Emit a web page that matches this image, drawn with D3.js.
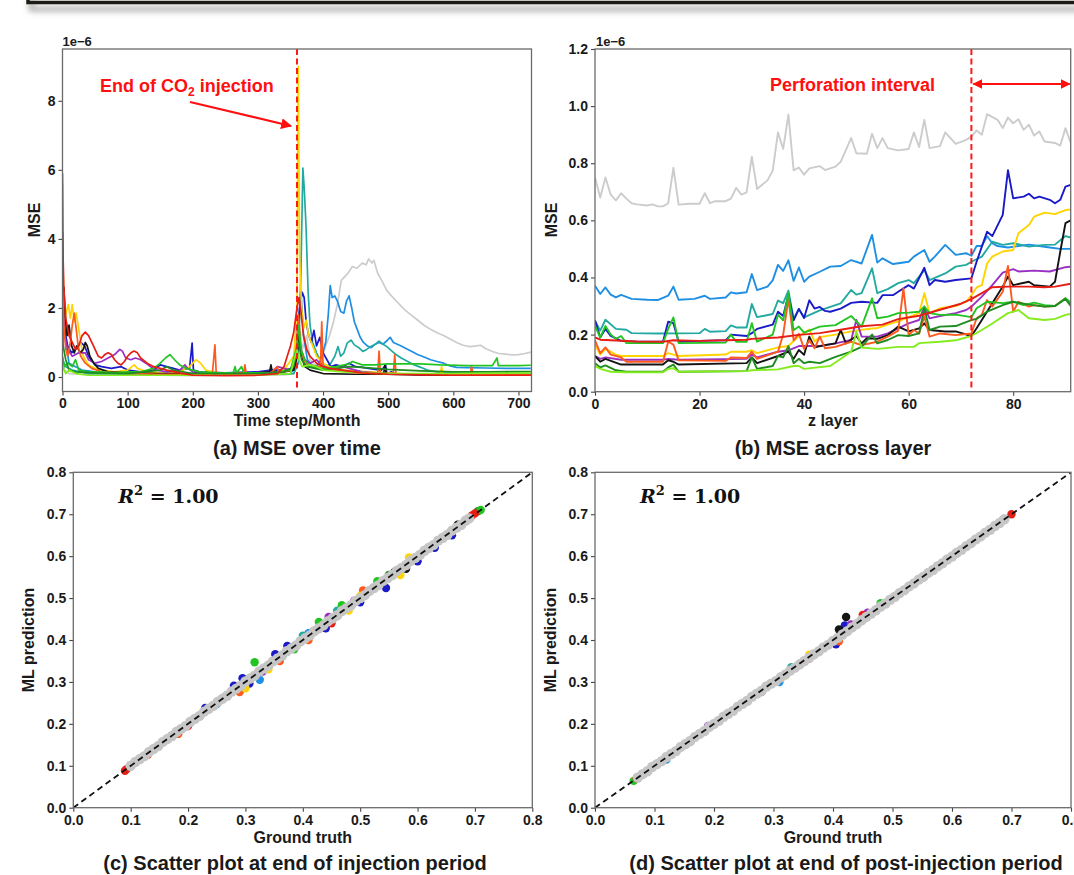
<!DOCTYPE html>
<html><head><meta charset="utf-8">
<script src="https://cdn.jsdelivr.net/npm/d3@7"></script>
<style>body{margin:0;background:#fff;overflow:hidden}svg{display:block}</style>
</head><body><svg id="fig" width="1074" height="875"></svg>
<script>
// ---------------- DATA ----------------
const seriesNames = ["gray","dodger","teal","darkblue","gold","purple","black","orangered","limegreen","forestgreen","lawngreen","red"];
const seriesColors = {gray:"#cccccc",dodger:"#1f8fe3",teal:"#22aaa2",darkblue:"#1a1ac8",gold:"#ffd400",purple:"#9a2fc4",black:"#141414",orangered:"#ff5a1e",limegreen:"#22c422",forestgreen:"#1f8c1f",lawngreen:"#84ec1c",red:"#e61e14"};

// (a) MSE over time, [time step, MSE x1e-6]
const timeTicks = [0,100,200,300,400,500,600,700];
const mseTicksA = [0,2,4,6,8];
const injectionEnd = 360;
const timeGray = [[0,0.4],[3,0.2],[10,0.1],[30,0.08],[60,0.05],[100,0.05],[150,0.05],[200,0.04],[250,0.05],[300,0.06],[340,0.06],[355,0.1],[360,0.6],[364,1.5],[368,0.8],[375,1.2],[380,0.5],[390,0.3],[398,0.5],[404,0.9],[410,1.2],[416,1.6],[422,2.1],[428,2.8],[433,2.9],[438,3.0],[445,3.2],[452,3.15],[460,3.3],[466,3.25],[470,3.42],[475,3.3],[478,3.38],[484,3.0],[490,2.8],[498,2.5],[505,2.35],[515,2.15],[525,1.95],[535,1.8],[545,1.65],[555,1.5],[565,1.38],[575,1.28],[585,1.2],[595,1.1],[605,1.0],[615,0.92],[625,0.88],[635,0.9],[642,0.92],[650,0.82],[660,0.74],[670,0.68],[680,0.66],[690,0.64],[700,0.65],[710,0.68],[719,0.72]];
const timeDodger = [[0,0.8],[3,1.5],[6,0.9],[10,0.4],[20,0.3],[30,0.2],[50,0.15],[100,0.1],[150,0.1],[200,0.08],[250,0.08],[300,0.08],[350,0.1],[358,0.3],[362,1.5],[366,2.5],[370,1.2],[376,0.5],[385,0.3],[392,0.35],[398,0.6],[404,1.0],[408,1.8],[411,2.65],[414,2.3],[418,2.35],[422,2.2],[427,1.9],[432,1.85],[436,2.2],[440,2.35],[444,2.0],[448,1.6],[452,1.4],[457,1.15],[462,1.0],[468,0.9],[474,0.85],[480,0.95],[486,1.0],[492,0.95],[498,1.05],[503,1.15],[508,1.0],[514,0.95],[520,0.9],[528,0.82],[535,0.75],[545,0.65],[555,0.58],[565,0.5],[575,0.45],[585,0.4],[595,0.32],[605,0.28],[620,0.27],[650,0.26],[680,0.25],[719,0.25]];
const timeTeal = [[0,0.5],[5,0.3],[15,0.2],[40,0.1],[100,0.08],[200,0.08],[300,0.08],[355,0.1],[362,0.4],[366,3.0],[369,6.05],[371,5.5],[374,4.3],[377,2.5],[380,1.5],[384,1.0],[390,0.7],[398,0.4],[405,0.3],[412,0.4],[418,0.6],[423,0.88],[427,0.6],[432,0.7],[437,0.98],[443,1.07],[448,0.93],[455,0.85],[461,0.74],[467,0.8],[473,0.88],[479,0.93],[486,1.04],[492,0.95],[498,0.88],[504,0.78],[512,0.65],[520,0.55],[530,0.45],[540,0.35],[550,0.28],[560,0.2],[575,0.15],[600,0.12],[650,0.1],[719,0.12]];
const timeDarkblue = [[0,2.0],[3,1.4],[8,0.9],[14,0.7],[20,0.8],[28,1.0],[34,0.9],[40,0.6],[50,0.35],[60,0.3],[75,0.25],[90,0.3],[100,0.2],[120,0.15],[140,0.2],[150,0.35],[160,0.3],[180,0.2],[195,0.25],[199,0.98],[201,0.2],[210,0.15],[250,0.12],[300,0.15],[320,0.2],[340,0.2],[355,0.25],[360,0.8],[364,2.0],[368,2.45],[371,2.3],[374,1.6],[378,1.2],[382,1.0],[386,1.35],[390,0.9],[395,1.15],[400,0.7],[406,0.5],[412,0.3],[420,0.35],[430,0.3],[440,0.4],[450,0.3],[460,0.28],[470,0.25],[480,0.22],[490,0.2],[496,0.35],[498,0.1],[505,0.15],[510,0.1],[530,0.08],[560,0.06],[600,0.05],[650,0.05],[719,0.05]];
const timeGold = [[0,5.6],[1,3.0],[3,1.6],[6,1.9],[9,2.1],[12,1.7],[15,2.1],[18,1.6],[21,1.85],[24,1.5],[28,1.0],[32,0.6],[40,0.35],[50,0.25],[60,0.2],[80,0.15],[100,0.2],[110,0.35],[115,0.25],[130,0.15],[160,0.1],[185,0.2],[195,0.3],[205,0.5],[212,0.4],[220,0.2],[240,0.1],[280,0.08],[320,0.1],[340,0.2],[355,0.6],[360,2.0],[362,9.0],[364,3.5],[367,2.0],[370,1.4],[374,1.65],[378,1.2],[383,0.95],[390,0.6],[400,0.4],[410,0.3],[430,0.2],[470,0.15],[520,0.1],[580,0.08],[582,0.3],[584,0.08],[650,0.06],[719,0.06]];
const timePurple = [[0,5.9],[1,2.5],[3,1.2],[8,0.8],[15,0.6],[25,0.7],[35,0.7],[40,0.5],[50,0.4],[60,0.45],[70,0.55],[80,0.65],[88,0.8],[92,0.75],[97,0.55],[105,0.5],[112,0.55],[120,0.5],[128,0.4],[135,0.3],[145,0.2],[160,0.15],[180,0.2],[188,0.35],[192,0.25],[200,0.15],[230,0.1],[280,0.1],[320,0.15],[330,0.3],[340,0.25],[350,0.2],[358,0.4],[362,1.6],[366,0.8],[372,0.5],[380,0.4],[390,0.5],[400,0.3],[410,0.25],[420,0.2],[430,0.3],[440,0.25],[450,0.2],[460,0.15],[480,0.12],[500,0.1],[530,0.08],[600,0.05],[719,0.05]];
const timeBlack = [[0,2.5],[2,2.6],[4,1.8],[7,1.2],[10,1.5],[14,0.9],[18,0.7],[22,0.9],[27,0.7],[32,0.8],[35,1.0],[38,0.9],[42,0.6],[48,0.4],[55,0.25],[70,0.15],[100,0.12],[150,0.1],[200,0.1],[250,0.1],[300,0.12],[318,0.15],[320,0.35],[322,0.15],[340,0.15],[355,0.2],[360,0.6],[363,1.2],[367,0.6],[372,0.3],[380,0.2],[400,0.1],[450,0.08],[493,0.08],[495,0.35],[497,0.08],[550,0.06],[680,0.05],[682,0.15],[684,0.05],[719,0.05]];
const timeOrangered = [[0,3.0],[2,1.5],[5,0.8],[8,0.6],[12,1.0],[15,1.5],[18,1.85],[21,1.4],[24,0.9],[28,0.6],[35,0.4],[45,0.25],[60,0.15],[100,0.1],[150,0.08],[200,0.08],[230,0.08],[234,0.93],[236,0.1],[260,0.1],[278,0.12],[280,0.35],[282,0.12],[320,0.12],[330,0.3],[332,0.12],[350,0.2],[358,0.6],[362,1.8],[366,0.8],[372,0.4],[380,0.35],[390,0.3],[396,0.3],[398,1.6],[400,0.3],[420,0.2],[450,0.12],[484,0.1],[486,0.75],[488,0.1],[508,0.1],[510,0.65],[512,0.1],[550,0.08],[626,0.08],[628,0.3],[630,0.08],[719,0.06]];
const timeLimegreen = [[0,0.6],[3,0.3],[8,0.4],[15,0.3],[20,0.5],[25,0.2],[40,0.15],[60,0.15],[80,0.12],[100,0.15],[120,0.15],[140,0.25],[150,0.4],[158,0.55],[165,0.65],[172,0.5],[180,0.35],[190,0.25],[210,0.15],[240,0.12],[262,0.12],[265,0.3],[267,0.12],[275,0.3],[278,0.12],[320,0.12],[350,0.2],[360,0.9],[363,1.5],[366,0.8],[372,0.5],[380,0.3],[400,0.25],[420,0.3],[440,0.38],[445,0.45],[460,0.35],[480,0.35],[500,0.38],[520,0.38],[550,0.38],[580,0.35],[620,0.33],[660,0.33],[667,0.55],[669,0.33],[700,0.33],[719,0.34]];
const timeForestgreen = [[0,1.0],[5,0.5],[10,0.2],[20,0.15],[50,0.12],[100,0.1],[150,0.2],[160,0.3],[170,0.2],[200,0.1],[250,0.1],[300,0.1],[340,0.15],[355,0.3],[360,0.8],[363,1.0],[367,0.5],[375,0.3],[400,0.2],[420,0.25],[440,0.3],[460,0.28],[480,0.25],[500,0.22],[550,0.18],[600,0.15],[650,0.15],[719,0.16]];
const timeLawngreen = [[0,0.3],[5,0.1],[10,0.2],[20,0.1],[40,0.05],[100,0.05],[200,0.05],[300,0.05],[350,0.1],[360,0.8],[363,0.5],[368,0.3],[380,0.35],[390,0.3],[400,0.2],[430,0.15],[500,0.1],[600,0.1],[719,0.12]];
const timeRed = [[0,4.2],[2,2.6],[5,1.7],[10,1.2],[15,1.0],[20,0.8],[25,0.9],[30,1.2],[35,1.3],[40,1.2],[45,1.0],[50,0.8],[55,0.6],[60,0.55],[65,0.65],[70,0.7],[75,0.65],[80,0.5],[85,0.4],[90,0.35],[95,0.45],[100,0.6],[105,0.7],[110,0.75],[115,0.7],[120,0.55],[130,0.4],[140,0.3],[150,0.25],[160,0.2],[180,0.12],[200,0.05],[250,0.04],[300,0.05],[330,0.1],[340,0.3],[345,0.6],[350,0.9],[355,1.3],[360,2.0],[363,2.3],[366,1.9],[370,1.2],[375,0.8],[380,0.6],[390,0.4],[400,0.3],[410,0.25],[430,0.2],[460,0.12],[500,0.08],[550,0.06],[600,0.05],[719,0.05]];

// (b) MSE across layer, [z layer, MSE x1e-6]
const layerTicks = [0,20,40,60,80];
const mseTicksB = [0,0.2,0.4,0.6,0.8,1.0,1.2];
const perforationStart = 72;
const layerGray = [[0,0.75],[1,0.68],[2,0.75],[3,0.69],[4,0.67],[5,0.695],[6,0.676],[7,0.66],[8,0.656],[10,0.652],[11,0.656],[12,0.649],[13,0.649],[14,0.66],[15,0.784],[16,0.655],[18,0.658],[20,0.658],[21,0.695],[22,0.66],[23,0.667],[25,0.667],[26,0.676],[27,0.714],[28,0.69],[29,0.698],[30,0.823],[31,0.71],[33,0.74],[34,0.774],[35,0.908],[36,0.85],[37,0.97],[38,0.775],[39,0.785],[40,0.76],[41,0.782],[43,0.79],[44,0.776],[46,0.788],[47,0.805],[49,0.888],[50,0.835],[52,0.833],[53,0.903],[54,0.853],[55,0.888],[56,0.853],[58,0.845],[60,0.85],[61,0.908],[62,0.857],[63,0.952],[64,0.853],[66,0.86],[67,0.908],[69,0.868],[71,0.882],[72,0.893],[73,0.915],[74,0.9],[75,0.972],[77,0.952],[78,0.923],[79,0.96],[80,0.94],[81,0.954],[82,0.917],[83,0.935],[84,0.897],[85,0.911],[86,0.876],[88,0.871],[89,0.862],[90,0.923],[91,0.871]];
const layerDodger = [[0,0.371],[1,0.342],[2,0.365],[3,0.34],[4,0.33],[5,0.339],[7,0.325],[10,0.322],[12,0.321],[14,0.336],[15,0.368],[16,0.322],[19,0.325],[21,0.336],[22,0.325],[25,0.33],[26,0.348],[27,0.344],[29,0.348],[30,0.412],[31,0.356],[33,0.368],[34,0.39],[35,0.444],[36,0.423],[37,0.46],[38,0.388],[39,0.435],[40,0.385],[41,0.403],[43,0.42],[45,0.438],[47,0.44],[49,0.461],[51,0.449],[53,0.549],[54,0.452],[55,0.467],[57,0.447],[60,0.455],[61,0.473],[63,0.496],[64,0.455],[65,0.473],[67,0.514],[69,0.479],[71,0.485],[72,0.476],[73,0.51],[74,0.51],[75,0.545],[76,0.52],[77,0.51],[79,0.505],[81,0.51],[83,0.515],[85,0.51],[87,0.505],[89,0.5],[91,0.5]];
const layerTeal = [[0,0.249],[1,0.214],[2,0.252],[4,0.22],[6,0.217],[7,0.205],[12,0.204],[20,0.205],[21,0.22],[22,0.21],[25,0.212],[26,0.232],[27,0.225],[29,0.225],[30,0.307],[31,0.261],[34,0.272],[35,0.319],[36,0.31],[37,0.354],[38,0.255],[39,0.29],[40,0.26],[43,0.285],[47,0.309],[49,0.356],[50,0.34],[51,0.345],[53,0.432],[54,0.345],[56,0.359],[58,0.38],[60,0.391],[61,0.38],[63,0.426],[64,0.391],[67,0.414],[69,0.438],[71,0.444],[72,0.455],[74,0.473],[76,0.525],[78,0.514],[80,0.52],[83,0.508],[86,0.514],[88,0.515],[89,0.53],[90,0.545],[91,0.54]];
const layerDarkblue = [[0,0.25],[1,0.19],[2,0.22],[3,0.195],[5,0.178],[8,0.175],[13,0.175],[14,0.245],[15,0.24],[16,0.175],[20,0.178],[25,0.18],[26,0.2],[29,0.195],[30,0.205],[31,0.22],[34,0.235],[35,0.28],[36,0.265],[37,0.34],[38,0.25],[39,0.29],[40,0.258],[41,0.32],[42,0.291],[43,0.297],[44,0.283],[45,0.28],[47,0.291],[49,0.311],[51,0.315],[54,0.311],[55,0.338],[57,0.338],[58,0.35],[60,0.373],[61,0.361],[63,0.434],[64,0.373],[65,0.391],[67,0.385],[69,0.391],[72,0.397],[73,0.455],[74,0.508],[75,0.56],[76,0.545],[78,0.619],[79,0.776],[80,0.677],[82,0.683],[83,0.693],[84,0.677],[85,0.683],[87,0.672],[88,0.66],[89,0.672],[90,0.718],[91,0.724]];
const layerGold = [[0,0.165],[1,0.13],[2,0.15],[4,0.13],[5,0.125],[13,0.125],[14,0.135],[15,0.13],[16,0.125],[25,0.13],[26,0.14],[29,0.14],[30,0.145],[31,0.135],[35,0.155],[37,0.16],[39,0.195],[41,0.218],[42,0.176],[43,0.191],[46,0.2],[49,0.211],[51,0.217],[54,0.223],[56,0.235],[58,0.246],[60,0.261],[62,0.275],[63,0.345],[64,0.275],[66,0.292],[69,0.3],[71,0.315],[72,0.338],[73,0.365],[74,0.373],[75,0.449],[76,0.473],[78,0.491],[80,0.496],[81,0.555],[83,0.584],[84,0.613],[86,0.627],[88,0.622],[90,0.636],[91,0.638]];
const layerPurple = [[0,0.125],[1,0.115],[2,0.12],[5,0.112],[13,0.112],[14,0.115],[16,0.112],[29,0.115],[30,0.13],[31,0.12],[35,0.14],[37,0.145],[39,0.16],[40,0.16],[43,0.16],[46,0.169],[49,0.181],[50,0.251],[51,0.193],[54,0.193],[56,0.204],[58,0.222],[60,0.239],[62,0.251],[63,0.298],[64,0.257],[66,0.265],[69,0.275],[71,0.286],[72,0.298],[74,0.333],[76,0.373],[78,0.417],[80,0.429],[81,0.421],[84,0.424],[87,0.421],[90,0.436],[91,0.438]];
const layerBlack = [[0,0.125],[1,0.105],[2,0.115],[5,0.095],[13,0.095],[14,0.11],[15,0.105],[16,0.095],[29,0.1],[30,0.12],[31,0.1],[35,0.125],[37,0.14],[38,0.115],[39,0.146],[40,0.129],[41,0.193],[42,0.155],[44,0.163],[46,0.169],[47,0.216],[48,0.169],[50,0.195],[51,0.169],[52,0.187],[54,0.185],[56,0.198],[58,0.228],[60,0.211],[62,0.222],[63,0.239],[64,0.216],[67,0.211],[69,0.211],[72,0.195],[73,0.222],[74,0.251],[76,0.31],[78,0.368],[79,0.403],[80,0.373],[83,0.385],[84,0.373],[87,0.368],[88,0.385],[89,0.49],[90,0.59],[91,0.6]];
const layerOrangered = [[0,0.18],[1,0.135],[2,0.155],[3,0.13],[5,0.12],[6,0.105],[13,0.105],[14,0.175],[15,0.165],[16,0.11],[25,0.108],[26,0.12],[29,0.118],[30,0.14],[31,0.115],[35,0.14],[36,0.2],[37,0.325],[38,0.18],[39,0.203],[40,0.15],[41,0.18],[42,0.152],[43,0.193],[44,0.152],[46,0.157],[49,0.175],[51,0.163],[54,0.175],[56,0.193],[58,0.214],[59,0.362],[60,0.198],[61,0.216],[62,0.204],[63,0.263],[64,0.193],[66,0.204],[69,0.198],[72,0.204],[73,0.257],[74,0.269],[75,0.321],[76,0.298],[78,0.35],[79,0.44],[80,0.28],[81,0.315],[83,0.298],[84,0.303],[86,0.298],[88,0.3],[90,0.327],[91,0.309]];
const layerLimegreen = [[0,0.23],[1,0.19],[2,0.23],[3,0.2],[4,0.185],[5,0.195],[6,0.17],[13,0.17],[14,0.22],[15,0.26],[16,0.17],[25,0.172],[26,0.2],[27,0.175],[29,0.175],[30,0.24],[31,0.175],[34,0.2],[35,0.27],[36,0.25],[37,0.345],[38,0.215],[39,0.228],[40,0.207],[43,0.228],[46,0.233],[49,0.265],[51,0.228],[53,0.327],[54,0.257],[56,0.263],[58,0.275],[60,0.277],[62,0.28],[63,0.298],[64,0.275],[66,0.269],[69,0.27],[72,0.261],[73,0.292],[75,0.315],[78,0.31],[80,0.315],[82,0.303],[84,0.312],[86,0.303],[88,0.3],[90,0.327],[91,0.312]];
const layerForestgreen = [[0,0.1],[1,0.085],[2,0.092],[4,0.075],[6,0.07],[13,0.07],[14,0.085],[15,0.095],[16,0.07],[29,0.072],[30,0.12],[31,0.08],[34,0.09],[35,0.125],[36,0.12],[37,0.16],[38,0.1],[39,0.115],[40,0.1],[41,0.105],[43,0.1],[46,0.122],[49,0.14],[51,0.157],[53,0.2],[54,0.169],[56,0.181],[58,0.198],[60,0.195],[62,0.204],[63,0.292],[64,0.216],[66,0.228],[69,0.23],[72,0.251],[73,0.255],[75,0.28],[78,0.303],[80,0.315],[83,0.305],[86,0.298],[88,0.3],[90,0.325],[91,0.3]];
const layerLawngreen = [[0,0.09],[1,0.08],[3,0.07],[6,0.068],[13,0.068],[14,0.08],[15,0.082],[16,0.07],[29,0.072],[30,0.075],[35,0.078],[38,0.09],[39,0.09],[40,0.08],[45,0.09],[49,0.14],[50,0.21],[51,0.155],[54,0.15],[58,0.157],[61,0.157],[62,0.17],[66,0.175],[69,0.18],[72,0.195],[74,0.216],[76,0.239],[79,0.275],[81,0.286],[83,0.257],[86,0.251],[88,0.255],[90,0.269],[91,0.272]];
const layerRed = [[0,0.19],[1,0.182],[3,0.18],[8,0.176],[13,0.175],[15,0.18],[20,0.178],[25,0.18],[29,0.182],[30,0.185],[35,0.19],[39,0.199],[43,0.205],[47,0.217],[51,0.229],[55,0.235],[58,0.254],[62,0.266],[66,0.287],[70,0.308],[72,0.324],[74,0.345],[76,0.366],[79,0.368],[83,0.368],[86,0.366],[88,0.368],[91,0.378]];

// (c),(d) scatter, [ground truth, ML prediction]
const scatterTicks = [0,0.1,0.2,0.3,0.4,0.5,0.6,0.7,0.8];
const r2Label = "1.00";
const scatC = {
  darkblue:[[0.28,0.291],[0.295,0.309],[0.307,0.296],[0.352,0.366],[0.373,0.386],[0.44,0.428],[0.5,0.49],[0.545,0.524],[0.6,0.588],[0.63,0.62],[0.66,0.65],[0.23,0.238]],
  dodger:[[0.325,0.305],[0.41,0.416],[0.25,0.247],[0.46,0.468]],
  orangered:[[0.505,0.518],[0.183,0.176],[0.29,0.276],[0.36,0.35],[0.41,0.4],[0.13,0.126]],
  gold:[[0.585,0.597],[0.57,0.555],[0.48,0.47],[0.3,0.285],[0.5,0.505],[0.34,0.33]],
  purple:[[0.445,0.455],[0.49,0.494],[0.33,0.325]],
  teal:[[0.46,0.47],[0.4,0.41]],
  black:[[0.56,0.562],[0.58,0.57],[0.67,0.675]],
  forestgreen:[[0.705,0.707],[0.55,0.555]],
  limegreen:[[0.316,0.347],[0.428,0.443],[0.468,0.483],[0.71,0.71],[0.385,0.378],[0.53,0.54]],
  red:[[0.09,0.088],[0.093,0.092],[0.695,0.697],[0.7,0.702],[0.2,0.195],[0.45,0.44]]
};
const scatCGray = [[0.100,0.100],[0.108,0.109],[0.116,0.116],[0.124,0.123],[0.132,0.133],[0.140,0.140],[0.148,0.147],[0.156,0.157],[0.164,0.164],[0.172,0.171],[0.180,0.181],[0.188,0.188],[0.196,0.195],[0.204,0.205],[0.212,0.212],[0.220,0.219],[0.228,0.229],[0.236,0.236],[0.244,0.243],[0.252,0.253],[0.260,0.260],[0.268,0.267],[0.276,0.277],[0.284,0.284],[0.292,0.291],[0.300,0.301],[0.308,0.308],[0.316,0.315],[0.324,0.325],[0.332,0.332],[0.340,0.339],[0.348,0.349],[0.356,0.356],[0.364,0.363],[0.372,0.373],[0.380,0.380],[0.388,0.387],[0.396,0.397],[0.404,0.404],[0.412,0.411],[0.420,0.421],[0.428,0.428],[0.436,0.435],[0.444,0.445],[0.452,0.452],[0.460,0.459],[0.468,0.469],[0.476,0.476],[0.484,0.483],[0.492,0.493],[0.500,0.500],[0.508,0.507],[0.516,0.517],[0.524,0.524],[0.532,0.531],[0.540,0.541],[0.548,0.548],[0.556,0.555],[0.564,0.565],[0.572,0.572],[0.580,0.579],[0.588,0.589],[0.596,0.596],[0.604,0.603],[0.612,0.613],[0.620,0.620],[0.628,0.627],[0.636,0.637],[0.644,0.644],[0.652,0.651],[0.660,0.661],[0.668,0.668],[0.676,0.675],[0.684,0.685],[0.690,0.690]];
const scatD = {
  darkblue:[[0.405,0.39],[0.42,0.435]],
  dodger:[[0.31,0.3],[0.12,0.115]],
  teal:[[0.33,0.335]],
  orangered:[[0.41,0.397],[0.36,0.355],[0.28,0.276]],
  gold:[[0.36,0.365],[0.32,0.315]],
  purple:[[0.458,0.465],[0.43,0.437],[0.19,0.195]],
  limegreen:[[0.065,0.064],[0.48,0.488],[0.55,0.548]],
  red:[[0.07,0.07],[0.685,0.685],[0.7,0.7],[0.45,0.46]],
  black:[[0.422,0.455],[0.41,0.425],[0.415,0.42]]
};
const scatDGray = [[0.072,0.072],[0.080,0.080],[0.088,0.087],[0.096,0.097],[0.104,0.104],[0.112,0.111],[0.120,0.121],[0.128,0.128],[0.136,0.135],[0.144,0.145],[0.152,0.152],[0.160,0.159],[0.168,0.169],[0.176,0.176],[0.184,0.183],[0.192,0.193],[0.200,0.200],[0.208,0.207],[0.216,0.217],[0.224,0.224],[0.232,0.231],[0.240,0.241],[0.248,0.248],[0.256,0.255],[0.264,0.265],[0.272,0.272],[0.280,0.279],[0.288,0.289],[0.296,0.296],[0.304,0.302],[0.312,0.311],[0.320,0.318],[0.328,0.327],[0.336,0.334],[0.344,0.342],[0.352,0.350],[0.360,0.358],[0.368,0.366],[0.376,0.373],[0.384,0.382],[0.392,0.389],[0.400,0.398],[0.408,0.405],[0.416,0.413],[0.424,0.421],[0.432,0.430],[0.440,0.438],[0.448,0.447],[0.456,0.455],[0.464,0.463],[0.472,0.471],[0.480,0.480],[0.488,0.487],[0.496,0.496],[0.504,0.503],[0.512,0.512],[0.520,0.519],[0.528,0.528],[0.536,0.535],[0.544,0.544],[0.552,0.551],[0.560,0.560],[0.568,0.567],[0.576,0.576],[0.584,0.583],[0.592,0.592],[0.600,0.599],[0.608,0.608],[0.616,0.615],[0.624,0.624],[0.632,0.631],[0.640,0.640],[0.648,0.647],[0.656,0.656],[0.664,0.663],[0.672,0.672],[0.680,0.679],[0.688,0.688]];

// ---------------- DRAW ----------------
const FONT = "'Liberation Sans', Arial, Helvetica, sans-serif";
const svg = d3.select("#fig");
const defs = svg.append("defs");

// top frame with shadow
const sh = defs.append("filter").attr("id","shadow").attr("x","-5%").attr("y","-200%").attr("width","110%").attr("height","600%");
sh.append("feGaussianBlur").attr("stdDeviation",3);
svg.append("path").attr("d","M29,-4 V5 H1080").attr("fill","none").attr("stroke","#999").attr("stroke-width",4).attr("filter","url(#shadow)").attr("transform","translate(2,4)");
svg.append("path").attr("d","M28,-4 V2.5 H1080").attr("fill","none").attr("stroke","#1d1b16").attr("stroke-width",3.5);

const lineSeriesA = {gray:timeGray,dodger:timeDodger,teal:timeTeal,darkblue:timeDarkblue,gold:timeGold,purple:timePurple,black:timeBlack,orangered:timeOrangered,limegreen:timeLimegreen,forestgreen:timeForestgreen,lawngreen:timeLawngreen,red:timeRed};
const lineSeriesB = {gray:layerGray,dodger:layerDodger,teal:layerTeal,darkblue:layerDarkblue,gold:layerGold,purple:layerPurple,black:layerBlack,orangered:layerOrangered,limegreen:layerLimegreen,forestgreen:layerForestgreen,lawngreen:layerLawngreen,red:layerRed};

function frame(id, L, R, T, B, xs, ys, xTicks, yTicks, xFmt, yFmt) {
  const g = svg.append("g");
  defs.append("clipPath").attr("id","clip"+id).append("rect").attr("x",L).attr("y",T).attr("width",R-L).attr("height",B-T);
  const ax = g.append("g").attr("transform",`translate(0,${B})`).call(d3.axisBottom(xs).tickValues(xTicks).tickFormat(xFmt).tickSize(4).tickPadding(3));
  const ay = g.append("g").attr("transform",`translate(${L},0)`).call(d3.axisLeft(ys).tickValues(yTicks).tickFormat(yFmt).tickSize(4).tickPadding(3));
  [ax,ay].forEach(a=>{
    a.select(".domain").remove();
    a.selectAll(".tick line").attr("stroke","#444").attr("stroke-width",1.1);
    a.selectAll(".tick text").attr("fill","#1a1a1a").style("font-family",FONT).style("font-weight","bold").style("font-size","14px");
  });
  return g;
}
function spines(L,R,T,B){
  svg.append("rect").attr("x",L).attr("y",T).attr("width",R-L).attr("height",B-T).attr("fill","none").attr("stroke","#6a6a6a").attr("stroke-width",1.3);
}
function txt(x,y,s,size,opts={}){
  const t = svg.append("text").attr("x",x).attr("y",y).text(s)
    .style("font-family",opts.family||FONT).style("font-weight",opts.weight||"bold").style("font-size",size+"px")
    .attr("fill",opts.fill||"#1a1a1a").attr("text-anchor",opts.anchor||"middle");
  if(opts.rotate) t.attr("transform",`rotate(-90,${x},${y})`);
  return t;
}

// ---- Panel (a)
{
  const L=62.5,R=531.5,T=49,B=391.5;
  const x=d3.scaleLinear().domain([0,720]).range([L,R]);
  const y=d3.scaleLinear().domain([-0.42,9.5]).range([B,T]);
  frame("a",L,R,T,B,x,y,timeTicks,mseTicksA,d3.format("d"),d3.format("d"));
  const line=d3.line().x(d=>x(d[0])).y(d=>y(d[1]));
  const gl=svg.append("g").attr("clip-path","url(#clipa)");
  seriesNames.forEach(n=>{
    gl.append("path").attr("d",line(lineSeriesA[n])).attr("fill","none").attr("stroke",seriesColors[n]).attr("stroke-width",1.7).attr("stroke-linejoin","round");
  });
  svg.append("line").attr("x1",x(injectionEnd)).attr("x2",x(injectionEnd)).attr("y1",T).attr("y2",B).attr("stroke","#ff1a1a").attr("stroke-width",2).attr("stroke-dasharray","6,3.5");
  spines(L,R,T,B);
  txt(L,46,"1e\u22126",13,{anchor:"start"});
  txt(40,220,"MSE",16,{rotate:true});
  txt((L+R)/2,426,"Time step/Month",16);
  txt(297,455,"(a) MSE over time",20);
  const t=txt(100,92,"",18,{anchor:"start",fill:"#ff1010"});
  t.append("tspan").text("End of CO");
  t.append("tspan").text("2").attr("dy",4).style("font-size","12px");
  t.append("tspan").text(" injection").attr("dy",-4);
  const mk=defs.append("marker").attr("id","ah").attr("viewBox","0 0 10 10").attr("refX",9).attr("refY",5).attr("markerWidth",5).attr("markerHeight",5).attr("orient","auto");
  mk.append("path").attr("d","M0,0 L10,5 L0,10 z").attr("fill","#ff1010");
  svg.append("line").attr("x1",190).attr("y1",102).attr("x2",291).attr("y2",126).attr("stroke","#ff1010").attr("stroke-width",2.2).attr("marker-end","url(#ah)");
}

// ---- Panel (b)
{
  const L=595,R=1070.7,T=49,B=391.7;
  const x=d3.scaleLinear().domain([0,91]).range([L,R]);
  const y=d3.scaleLinear().domain([0,1.2]).range([B,T]);
  frame("b",L,R,T,B,x,y,layerTicks,mseTicksB,d3.format("d"),d3.format(".1f"));
  const line=d3.line().x(d=>x(d[0])).y(d=>y(d[1]));
  const gl=svg.append("g").attr("clip-path","url(#clipb)");
  seriesNames.forEach(n=>{
    gl.append("path").attr("d",line(lineSeriesB[n])).attr("fill","none").attr("stroke",seriesColors[n]).attr("stroke-width",1.9).attr("stroke-linejoin","round");
  });
  svg.append("line").attr("x1",x(perforationStart)).attr("x2",x(perforationStart)).attr("y1",T).attr("y2",B).attr("stroke","#ff1a1a").attr("stroke-width",2).attr("stroke-dasharray","6,3.5");
  spines(L,R,T,B);
  txt(L+1,46,"1e\u22126",13,{anchor:"start"});
  txt(557,220,"MSE",16,{rotate:true});
  txt((L+R)/2,426,"z layer",16);
  txt(833,455,"(b) MSE across layer",20);
  txt(770,91,"Perforation interval",18,{anchor:"start",fill:"#ff1010"});
  const mk2=defs.append("marker").attr("id","ah2").attr("viewBox","0 0 10 10").attr("refX",9).attr("refY",5).attr("markerWidth",4.5).attr("markerHeight",4.5).attr("orient","auto-start-reverse");
  mk2.append("path").attr("d","M0,0 L10,5 L0,10 z").attr("fill","#ff1010");
  svg.append("line").attr("x1",x(perforationStart)+2).attr("y1",84).attr("x2",R-1).attr("y2",84).attr("stroke","#ff1010").attr("stroke-width",2.2).attr("marker-start","url(#ah2)").attr("marker-end","url(#ah2)");
}

// ---- Scatter panels
function scatterPanel(id,L,R,T,B,colored,gray,title,titleX){
  const x=d3.scaleLinear().domain([0,0.8]).range([L,R]);
  const y=d3.scaleLinear().domain([0,0.8]).range([B,T]);
  frame(id,L,R,T,B,x,y,scatterTicks,scatterTicks,d3.format(".1f"),d3.format(".1f"));
  const g=svg.append("g").attr("clip-path",`url(#clip${id})`);
  Object.keys(colored).forEach(n=>{
    g.selectAll(null).data(colored[n]).enter().append("circle")
      .attr("cx",d=>x(d[0])).attr("cy",d=>y(d[1])).attr("r",4.2).attr("fill",seriesColors[n]);
  });
  g.selectAll(null).data(gray).enter().append("circle")
    .attr("cx",d=>x(d[0])).attr("cy",d=>y(d[1])).attr("r",5.2).attr("fill","#c6c6c6");
  g.append("line").attr("x1",x(0)).attr("y1",y(0)).attr("x2",x(0.8)).attr("y2",y(0.8)).attr("stroke","#111").attr("stroke-width",1.8).attr("stroke-dasharray","6,4");
  spines(L,R,T,B);
  const r=svg.append("text").attr("x",L+45).attr("y",503).style("font-family","'DejaVu Serif', serif").style("font-weight","bold").style("font-size","19px").attr("fill","#111");
  r.append("tspan").text("R").style("font-style","italic");
  r.append("tspan").text("2").attr("dy",-8).style("font-size","13px");
  r.append("tspan").text(" = "+r2Label).attr("dy",8);
  txt((L+R)/2,843,"Ground truth",16);
  txt(L-39,640,"ML prediction",16,{rotate:true});
  txt(titleX,870,title,20);
}
scatterPanel("c",73.3,532.3,472.3,807.7,scatC,scatCGray,"(c) Scatter plot at end of injection period",295);
scatterPanel("d",595,1071,472.3,807.7,scatD,scatDGray,"(d) Scatter plot at end of post-injection period",846);
</script></body></html>
